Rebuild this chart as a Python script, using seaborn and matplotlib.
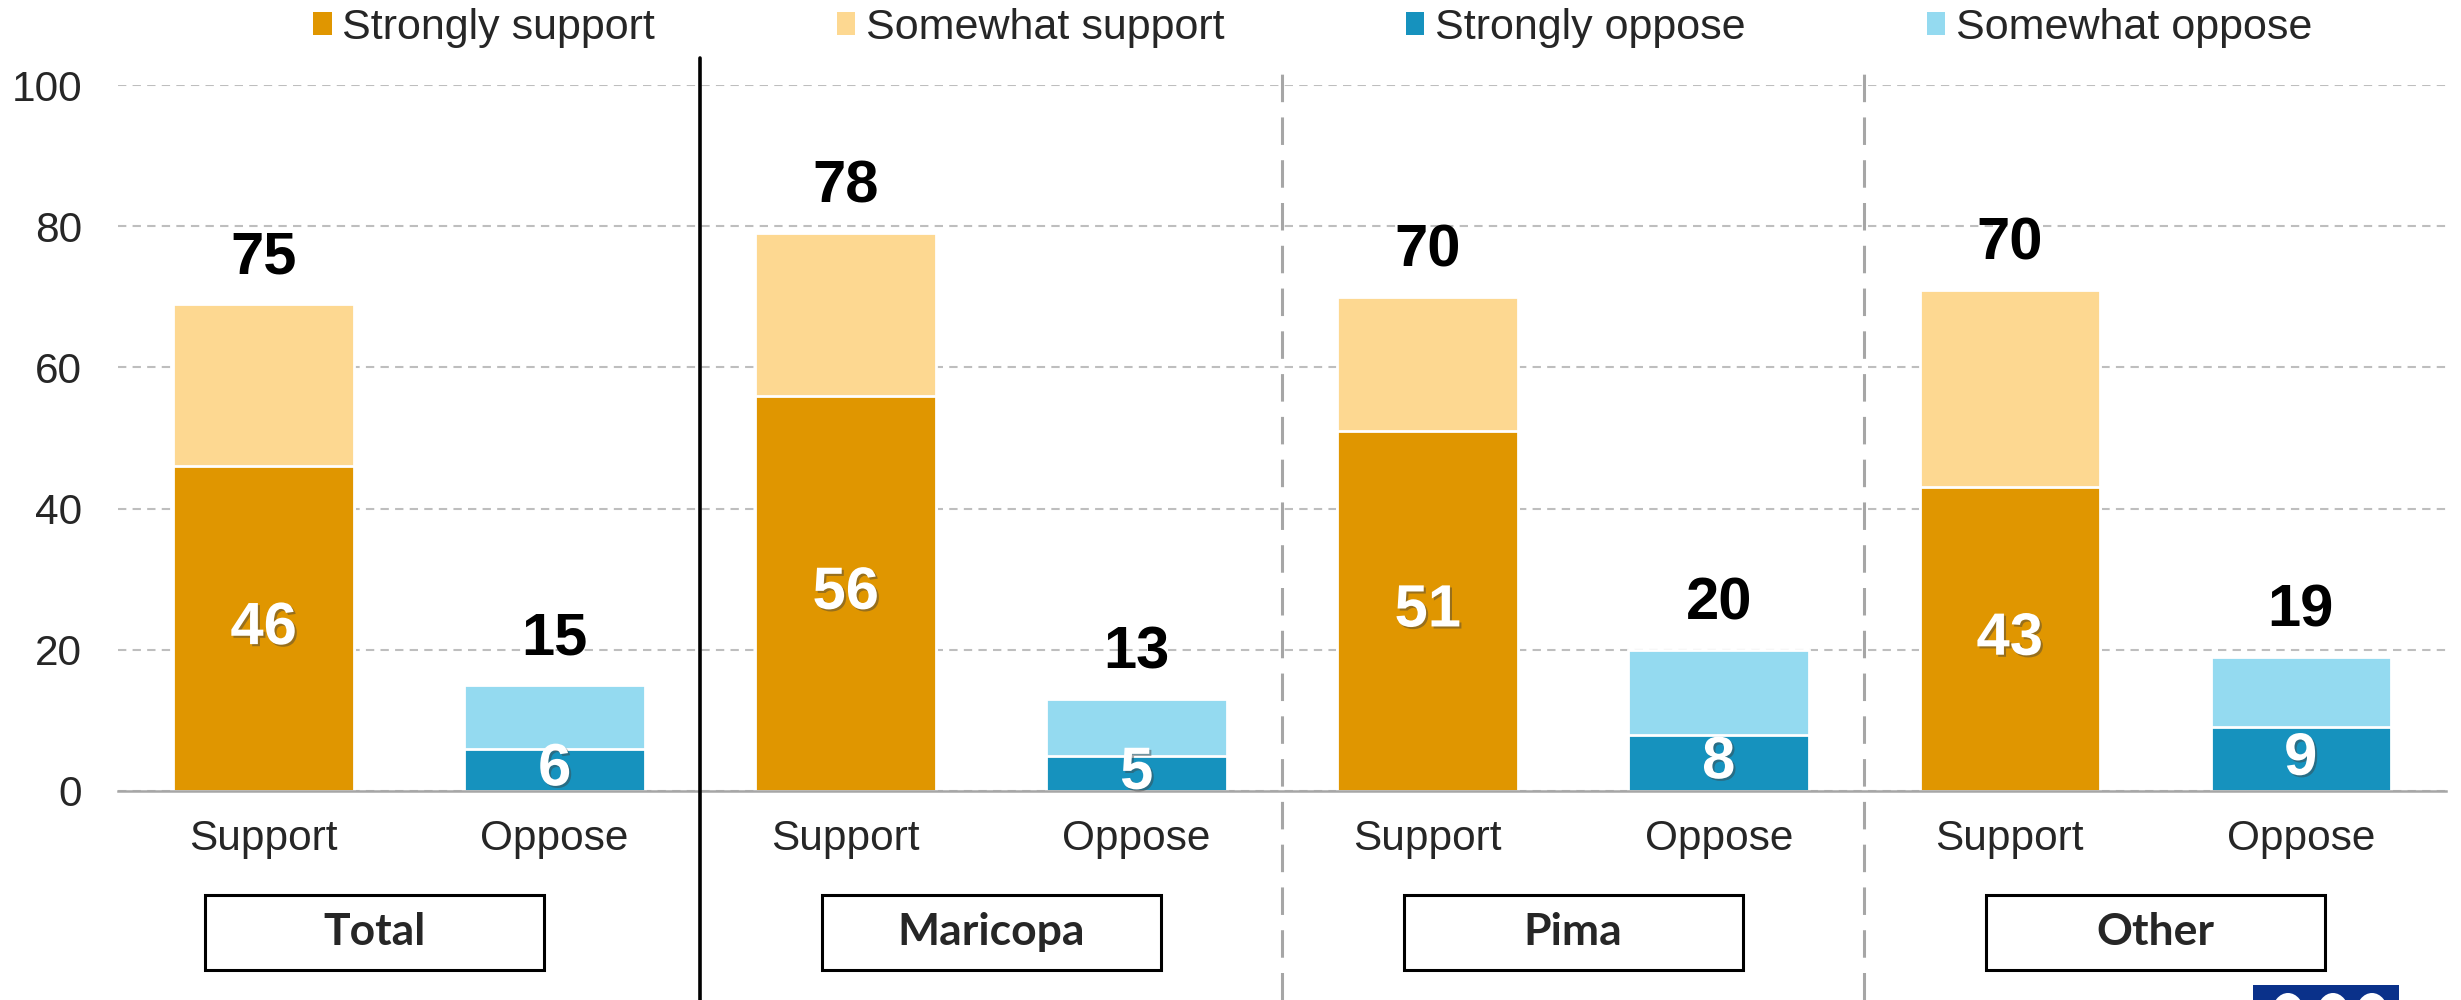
import pandas as pd
import matplotlib
matplotlib.use("Agg")
import matplotlib.pyplot as plt
import matplotlib.patheffects as pe
from matplotlib.patches import Patch, Rectangle, Ellipse
import seaborn as sns

# chart values
groups = ["Total", "Maricopa", "Pima", "Other"]
sides = ["Support", "Oppose"]
strongly_support = [46, 56, 51, 43]
somewhat_support = [23, 23, 19, 28]
strongly_oppose = [6, 5, 8, 9]
somewhat_oppose = [9, 8, 12, 10]
support_totals = [75, 78, 70, 70]
oppose_totals = [15, 13, 20, 19]
legend_labels = ["Strongly support", "Somewhat support", "Strongly oppose", "Somewhat oppose"]

ORANGE = "#E09600"
LIGHT_ORANGE = "#FDD891"
BLUE = "#1692BE"
LIGHT_BLUE = "#94DAF0"

rows = []
for i, g in enumerate(groups):
    rows.append({"bar": g + " Support", "side": "Support", "strong": strongly_support[i],
                 "total": strongly_support[i] + somewhat_support[i], "label": support_totals[i]})
    rows.append({"bar": g + " Oppose", "side": "Oppose", "strong": strongly_oppose[i],
                 "total": strongly_oppose[i] + somewhat_oppose[i], "label": oppose_totals[i]})
df = pd.DataFrame(rows)

sns.set_style("white")
plt.rcParams["font.family"] = ["Liberation Sans", "DejaVu Sans"]

fig = plt.figure(figsize=(24.61, 10), dpi=100)
ax = fig.add_axes([0.048, 0.209, 0.946, 0.706])

light_pal = [LIGHT_ORANGE if s == "Support" else LIGHT_BLUE for s in df["side"]]
dark_pal = [ORANGE if s == "Support" else BLUE for s in df["side"]]

# whole bar first (light), then the "strongly" part on top
sns.barplot(data=df, x="bar", y="total", hue="bar", palette=light_pal, width=0.62, saturation=1,
            edgecolor="white", linewidth=2, legend=False, ax=ax, zorder=3)
sns.barplot(data=df, x="bar", y="strong", hue="bar", palette=dark_pal, width=0.62, saturation=1,
            edgecolor="white", linewidth=2, legend=False, ax=ax, zorder=4)

ax.set_xlim(-0.5, 7.5)
ax.set_ylim(0, 100)
ax.set_yticks([0, 20, 40, 60, 80, 100])
ax.set_xlabel("")
ax.set_ylabel("")
ax.set_xticks(range(len(df)))
ax.set_xticklabels(df["side"], fontsize=30.5)
ax.set_xticks([x - 0.5 for x in range(len(df) + 1)], minor=True)
ax.tick_params(axis="x", which="major", length=0, pad=20)
ax.tick_params(axis="x", which="minor", length=9, width=1.5, color="#A6A6A6", direction="out")
ax.tick_params(axis="y", length=0, pad=26, labelsize=30.5)

for s in ["left", "top", "right"]:
    ax.spines[s].set_visible(False)
ax.spines["bottom"].set_color("#A6A6A6")
ax.spines["bottom"].set_linewidth(1.8)
ax.spines["bottom"].set_zorder(5)

ax.yaxis.grid(True, linestyle=(0, (4, 3)), color="#BEBEBE", linewidth=1.5, zorder=0)
ax.set_axisbelow(True)

# value labels
shadow = [pe.withSimplePatchShadow(offset=(1.5, -1.5), shadow_rgbFace="#404040", alpha=0.45)]
for i, r in df.iterrows():
    ax.annotate(str(r["label"]), xy=(i, r["total"]), xytext=(0, 33), textcoords="offset points",
                ha="center", va="center", fontsize=43, fontweight="bold", color="black",
                zorder=6, annotation_clip=False)
    ax.text(i, r["strong"] / 2, str(r["strong"]), ha="center", va="center", fontsize=43,
            fontweight="bold", color="white", zorder=6, path_effects=shadow)

# group separators
ax.axvline(1.5, ymin=-0.296, ymax=1.038, color="black", linewidth=2.6, clip_on=False, zorder=7)
for xs in [3.5, 5.5]:
    ax.axvline(xs, ymin=-0.296, ymax=1.031, color="#A6A6A6", linewidth=2.2,
               linestyle=(0, (9, 5)), clip_on=False, zorder=7)

# group boxes
trans = ax.get_xaxis_transform()
box_centers = [0.38, 2.5, 4.5, 6.5]
for c, g in zip(box_centers, groups):
    ax.add_patch(Rectangle((c - 0.583, -0.2535), 1.166, 0.1065, transform=trans, fill=False,
                           edgecolor="black", linewidth=2.2, clip_on=False))
    ax.text(c, -0.2, g, transform=trans, ha="center", va="center", fontsize=32,
            fontweight="bold", family=["Lato", "DejaVu Sans"])

# legend
handles = [Patch(facecolor=c, edgecolor="none") for c in [ORANGE, LIGHT_ORANGE, BLUE, LIGHT_BLUE]]
fig.legend(handles, legend_labels, loc="center", bbox_to_anchor=(0.5335, 0.972), ncol=4,
           frameon=False, fontsize=31, handlelength=0.42, handleheight=0.42,
           handletextpad=0.25, columnspacing=4.22, borderpad=0, borderaxespad=0)

# logo cut off at the bottom-right corner (only its top edge is visible)
W, H = 2461, 1000
fig.patches.append(Rectangle((2253 / W, 0), 146 / W, 0.015, transform=fig.transFigure,
                             facecolor="#0A318A", edgecolor="none"))
for cx in [2288, 2333, 2372]:
    fig.patches.append(Ellipse((cx / W, -0.013), 32 / W, 0.04, transform=fig.transFigure,
                               facecolor="white", edgecolor="none"))

fig.savefig("out.png", dpi=100)
